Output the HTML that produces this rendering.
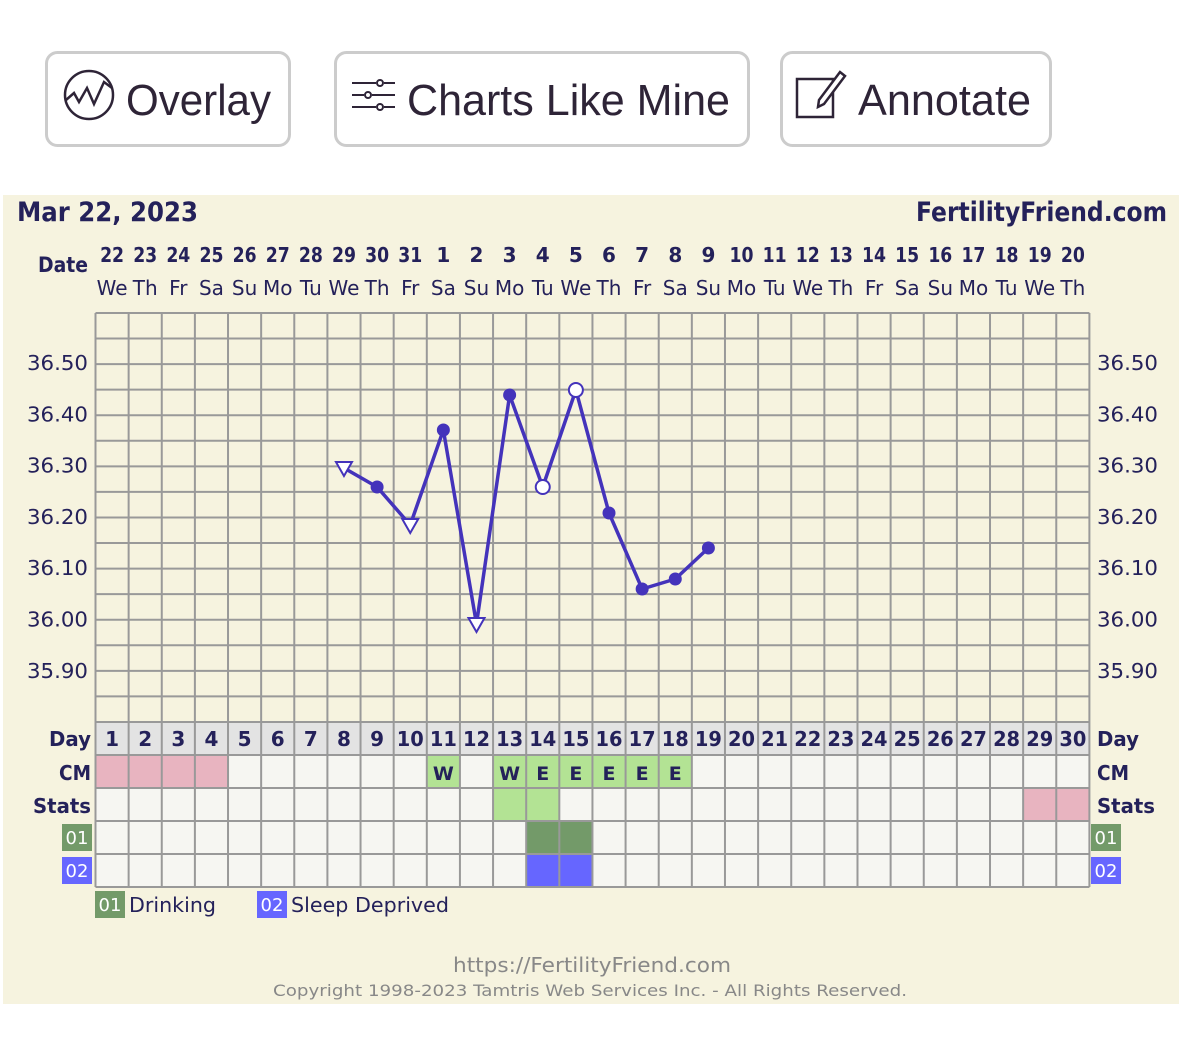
<!DOCTYPE html>
<html><head><meta charset="utf-8"><style>
html,body{margin:0;padding:0;background:#fff;width:1179px;height:1045px;overflow:hidden}
svg{display:block}
</style></head><body>
<svg id="s" width="1179" height="1045" xmlns="http://www.w3.org/2000/svg" font-family="DejaVu Sans, Liberation Sans, sans-serif">
<rect x="46.5" y="52.5" width="243" height="93" rx="11" fill="#fff" stroke="#ccc" stroke-width="3"/>
<rect x="335.5" y="52.5" width="413" height="93" rx="11" fill="#fff" stroke="#ccc" stroke-width="3"/>
<rect x="781.5" y="52.5" width="269" height="93" rx="11" fill="#fff" stroke="#ccc" stroke-width="3"/>
<circle cx="89" cy="95" r="24" fill="none" stroke="#2e2437" stroke-width="2.5"/>
<polyline points="66,100 74,93 79,102 87,88 94,104 104,82 112,88" fill="none" stroke="#2e2437" stroke-width="2.5"/>
<text x="126" y="115" font-size="44" fill="#2e2437" font-family="Liberation Sans, sans-serif" textLength="145" lengthAdjust="spacingAndGlyphs">Overlay</text>
<g stroke="#2e2437" stroke-width="2" fill="none">
<line x1="352" y1="83" x2="376" y2="83"/><circle cx="380" cy="83" r="3"/><line x1="384" y1="83" x2="395" y2="83"/>
<line x1="352" y1="95" x2="364" y2="95"/><circle cx="368" cy="95" r="3"/><line x1="372" y1="95" x2="395" y2="95"/>
<line x1="352" y1="107" x2="376" y2="107"/><circle cx="380" cy="107" r="3"/><line x1="384" y1="107" x2="395" y2="107"/>
</g>
<text x="407" y="115" font-size="44" fill="#2e2437" font-family="Liberation Sans, sans-serif" textLength="323" lengthAdjust="spacingAndGlyphs">Charts Like Mine</text>
<rect x="797" y="79" width="36" height="38" fill="none" stroke="#2e2437" stroke-width="2.5"/>
<path d="M819,100 L840,72 L845,76 L824,104 L818,107 Z" fill="#fff" stroke="#2e2437" stroke-width="2.5"/>
<text x="858" y="115" font-size="44" fill="#2e2437" font-family="Liberation Sans, sans-serif" textLength="173" lengthAdjust="spacingAndGlyphs">Annotate</text>
<rect x="3" y="195" width="1176" height="809" fill="#f6f3df"/>
<text x="17" y="221" font-size="27" font-weight="bold" fill="#24215a" textLength="181" lengthAdjust="spacingAndGlyphs">Mar 22, 2023</text>
<text x="916" y="221" font-size="27" font-weight="bold" fill="#24215a" textLength="251" lengthAdjust="spacingAndGlyphs">FertilityFriend.com</text>
<text x="38" y="272" font-size="21" font-weight="bold" fill="#24215a" textLength="50" lengthAdjust="spacingAndGlyphs">Date</text>
<g id="g"></g>
</svg>
<script>
var g=document.getElementById('g'),h='';
var x0=95.5,w=33.13,N=30;function cx(i){return x0+(i+0.5)*w}
var x1=x0+N*w;
var dates=[22,23,24,25,26,27,28,29,30,31,1,2,3,4,5,6,7,8,9,10,11,12,13,14,15,16,17,18,19,20];
var wd=['We','Th','Fr','Sa','Su','Mo','Tu'];
function tl(s,two,one){return s.length>1?' textLength="'+two+'" lengthAdjust="spacingAndGlyphs"':''}
for(var i=0;i<N;i++){
var s=''+dates[i];
h+='<text x="'+cx(i)+'" y="262" font-size="20" font-weight="bold" fill="#24215a" text-anchor="middle"'+tl(s,24)+'>'+s+'</text>';
h+='<text x="'+cx(i)+'" y="295" font-size="20" fill="#24215a" text-anchor="middle">'+wd[i%7]+'</text>';}
h+='<rect x="'+x0+'" y="313" width="'+(N*w)+'" height="409" fill="#f6f3df"/>';
h+='<rect x="'+x0+'" y="722" width="'+(N*w)+'" height="33" fill="#e3e3e3"/>';
h+='<rect x="'+x0+'" y="755" width="'+(N*w)+'" height="132" fill="#f6f6f2"/>';
function cell(i,r,c){h+='<rect x="'+(x0+i*w)+'" y="'+(755+r*33)+'" width="'+w+'" height="33" fill="'+c+'"/>';}
for(var i=0;i<4;i++)cell(i,0,'#e8b4c0');
[10,12,13,14,15,16,17].forEach(function(i){cell(i,0,'#b3e394')});
cell(12,1,'#b3e394');cell(13,1,'#b3e394');cell(28,1,'#e8b4c0');cell(29,1,'#e8b4c0');
cell(13,2,'#739a69');cell(14,2,'#739a69');cell(13,3,'#6666ff');cell(14,3,'#6666ff');
var st='stroke="#999" stroke-width="2"';
for(var k=0;k<=16;k++){var y=313+k*25.56;h+='<line x1="'+x0+'" x2="'+x1+'" y1="'+y+'" y2="'+y+'" '+st+'/>';}
for(var r=1;r<=5;r++){var y=722+r*33;h+='<line x1="'+x0+'" x2="'+x1+'" y1="'+y+'" y2="'+y+'" '+st+'/>';}
for(var i=0;i<=N;i++){var x=x0+i*w;h+='<line x1="'+x+'" x2="'+x+'" y1="313" y2="887" '+st+'/>';}
var labs=['36.50','36.40','36.30','36.20','36.10','36.00','35.90'];
for(var j=0;j<7;j++){var y=370+j*51.3;
h+='<text x="88" y="'+y+'" font-size="20" fill="#24215a" text-anchor="end" textLength="61" lengthAdjust="spacingAndGlyphs">'+labs[j]+'</text>';
h+='<text x="1097" y="'+y+'" font-size="20" fill="#24215a" textLength="61" lengthAdjust="spacingAndGlyphs">'+labs[j]+'</text>';}
for(var i=0;i<N;i++){var s=''+(i+1);h+='<text x="'+cx(i)+'" y="746" font-size="20" font-weight="bold" fill="#24215a" text-anchor="middle"'+tl(s,27)+'>'+s+'</text>';}
var cm={10:'W',12:'W',13:'E',14:'E',15:'E',16:'E',17:'E'};
for(var k in cm)h+='<text x="'+cx(+k)+'" y="780" font-size="19" font-weight="bold" fill="#24215a" text-anchor="middle">'+cm[k]+'</text>';
var L=[['Day',746,42],['CM',780,32],['Stats',813,58]];
L.forEach(function(a){h+='<text x="'+(91-a[2])+'" y="'+a[1]+'" font-size="20" font-weight="bold" fill="#24215a" textLength="'+a[2]+'" lengthAdjust="spacingAndGlyphs">'+a[0]+'</text>';
h+='<text x="1097" y="'+a[1]+'" font-size="20" font-weight="bold" fill="#24215a" textLength="'+a[2]+'" lengthAdjust="spacingAndGlyphs">'+a[0]+'</text>';});
function badge(x,y,c,t){h+='<rect x="'+x+'" y="'+y+'" width="30" height="27" fill="'+c+'"/><text x="'+(x+15)+'" y="'+(y+20)+'" font-size="18" fill="#fff" text-anchor="middle">'+t+'</text>';}
badge(62,824,'#739a69','01');badge(62,857,'#6666ff','02');
badge(1091,824,'#739a69','01');badge(1091,857,'#6666ff','02');
badge(95,891,'#739a69','01');h+='<text x="129" y="912" font-size="20" fill="#24215a" textLength="87" lengthAdjust="spacingAndGlyphs">Drinking</text>';
badge(257,891,'#6666ff','02');h+='<text x="291" y="912" font-size="20" fill="#24215a" textLength="158" lengthAdjust="spacingAndGlyphs">Sleep Deprived</text>';
h+='<text x="453" y="972" font-size="20" fill="#888" textLength="278" lengthAdjust="spacingAndGlyphs">https://FertilityFriend.com</text>';
h+='<text x="273" y="996" font-size="16" fill="#888" textLength="634" lengthAdjust="spacingAndGlyphs">Copyright 1998-2023 Tamtris Web Services Inc. - All Rights Reserved.</text>';
var P=[[7,468,'t'],[8,487,'f'],[9,525,'t'],[10,430,'f'],[11,624,'t'],[12,395,'f'],[13,487,'o'],[14,390,'o'],[15,513,'f'],[16,589,'f'],[17,579,'f'],[18,548,'f']];
var pts=P.map(function(p){return cx(p[0])+','+p[1]}).join(' ');
h+='<polyline points="'+pts+'" fill="none" stroke="#4433bb" stroke-width="3.5" stroke-linejoin="round"/>';
P.forEach(function(p){var x=cx(p[0]),y=p[1];
if(p[2]=='f')h+='<circle cx="'+x+'" cy="'+y+'" r="6.5" fill="#4433bb"/>';
else if(p[2]=='o')h+='<circle cx="'+x+'" cy="'+y+'" r="7" fill="#fff" stroke="#4433bb" stroke-width="2"/>';
else h+='<polygon points="'+(x-8)+','+(y-6)+' '+(x+8)+','+(y-6)+' '+x+','+(y+8)+'" fill="#fff" stroke="#4433bb" stroke-width="2"/>';});
g.innerHTML=h;
</script>
</body></html>
